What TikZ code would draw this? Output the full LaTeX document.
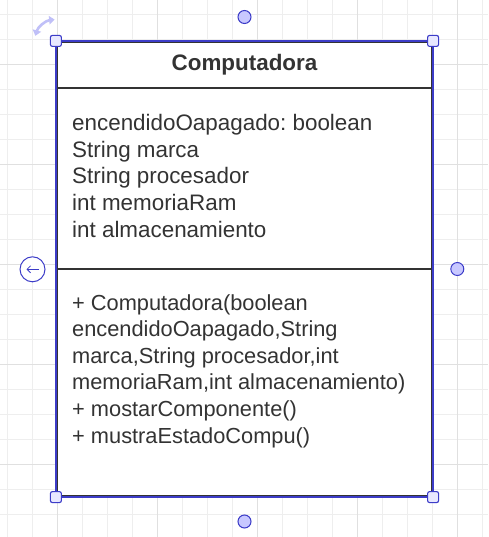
\documentclass[tikz,border=0pt]{standalone}
\usepackage{fontspec}
\setmainfont{Liberation Sans}
\usetikzlibrary{arrows.meta}
\frenchspacing
\definecolor{txt}{HTML}{333333}
\definecolor{selblue}{HTML}{3C3CC8}
\definecolor{hfill}{HTML}{E8E8FF}
\definecolor{dfill}{HTML}{C8C8FF}
\definecolor{rotc}{HTML}{C0C0F8}
\definecolor{gminor}{HTML}{EEEEEE}
\definecolor{gmajor}{HTML}{E0E0E0}
\tikzset{
  lbl/.style={anchor=base west, inner sep=0pt, text=txt, font=\fontsize{22.4}{26.5}\selectfont},
  mlbl/.style={anchor=base west, inner sep=0pt, text=txt, font=\fontsize{21.8}{26.5}\selectfont},
  ttl/.style={anchor=base, inner sep=0pt, text=txt, font=\fontsize{22.4}{26.5}\selectfont\bfseries},
  handle/.style={draw=selblue, fill=hfill, line width=1.1pt, rounded corners=2pt, minimum size=11pt, inner sep=0pt},
  dot/.style={circle, draw=selblue, fill=dfill, line width=1pt, minimum size=13pt, inner sep=0pt},
}
\begin{document}
\begin{tikzpicture}[x=1pt,y=-1pt]
\useasboundingbox (0,0) rectangle (488,537);
\fill[white] (0,0) rectangle (488,537);
% grid
\foreach \k in {0,...,19} \draw[gminor, line width=1pt] (7.3+25*\k,0) -- (7.3+25*\k,537);
\foreach \k in {0,...,20} \draw[gminor, line width=1pt] (0,14.3+25*\k) -- (488,14.3+25*\k);
\foreach \k in {0,...,4} \draw[gmajor, line width=1pt] (57.3+100*\k,0) -- (57.3+100*\k,537);
\foreach \k in {0,...,4} \draw[gmajor, line width=1pt] (0,64.3+100*\k) -- (488,64.3+100*\k);
% class box
\node[draw=txt, fill=white, line width=2.2pt, minimum width=375pt, minimum height=454pt, inner sep=0pt] (cls) at (244.5,269) {};
\draw[selblue, line width=1.3pt] (cls.north west) rectangle (cls.south east);
\coordinate (d1l) at (57,88); \coordinate (d1r) at (432,88);
\coordinate (d2l) at (57,269); \coordinate (d2r) at (432,269);
\draw[txt, line width=2pt] (d1l) -- (d1r);
\draw[txt, line width=2pt] (d2l) -- (d2r);
\draw[selblue, line width=1.3pt] (cls.north west) -- (cls.south west) (cls.north east) -- (cls.south east);
% texts
\node[ttl] (title) at (244.5,71) {Computadora};
\node[lbl] (a1) at (72,131) {encendidoOapagado: boolean};
\node[lbl] (a2) at (72,157.5) {String marca};
\node[lbl] (a3) at (72,184) {String procesador};
\node[lbl] (a4) at (72,210.5) {int memoriaRam};
\node[lbl] (a5) at (72,237) {int almacenamiento};
\node[mlbl] (m1) at (72,310) {+ Computadora(boolean};
\node[mlbl] (m2) at (72,336.6) {encendidoOapagado,String};
\node[mlbl] (m3) at (72,363.2) {marca,String procesador,int};
\node[mlbl] (m4) at (72,389.8) {memoriaRam,int almacenamiento)};
\node[mlbl] (m5) at (72,416.4) {+ mostarComponente()};
\node[mlbl] (m6) at (72,443) {+ mustraEstadoCompu()};
% selection handles
\node[handle] (h1) at (cls.north west) {};
\node[handle] (h2) at (cls.north east) {};
\node[handle] (h3) at (cls.south west) {};
\node[handle] (h4) at (cls.south east) {};
\node[dot] (ct) at (244.5,17) {};
\node[dot] (cr) at (457.3,269) {};
\node[dot] (cb) at (244.5,521.5) {};
\node[circle, draw=selblue, fill=white, line width=1pt, minimum size=25pt, inner sep=0pt] (cl) at (32.5,269.3) {};
\coordinate (al) at (26.5,269.3); \coordinate (ar) at (39,269.3);
\draw[selblue, line width=0.8pt, -{Straight Barb[length=3.5pt,width=7pt]}] (ar) -- (al);
% rotate handle
\draw[rotc, line width=2.6pt, {Triangle[length=5.5pt,width=8.5pt]}-{Triangle[length=5.5pt,width=8.5pt]}] (57,42) ++(196:22.5) arc[start angle=196, end angle=264, radius=22.5];
\end{tikzpicture}
\end{document}
